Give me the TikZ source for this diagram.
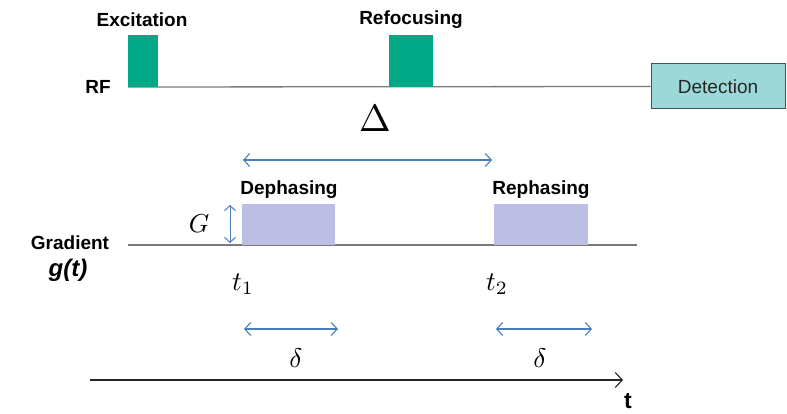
\documentclass[tikz,border=0pt]{standalone}
\usepackage{fontspec}
\setmainfont{Liberation Sans}
\usetikzlibrary{arrows.meta}
\definecolor{pulsegreen}{HTML}{00A886}
\definecolor{detfill}{HTML}{9CD8D8}
\definecolor{detedge}{HTML}{3F5555}
\definecolor{gradfill}{HTML}{BCBEE3}
\definecolor{arrblue}{HTML}{4A7EBB}
\definecolor{linegray}{HTML}{7A7A7A}
\tikzset{
  lbl/.style={font=\bfseries\fontsize{19}{21}\selectfont, inner sep=0pt},
  rfpulse/.style={fill=pulsegreen, draw=none, inner sep=0pt, minimum height=52pt},
  gpulse/.style={fill=gradfill, draw=none, inner sep=0pt, minimum height=41pt},
  baseline/.style={draw=linegray, line width=1.3pt},
  dblarrow/.style={draw=arrblue, line width=1.1pt, {Straight Barb[length=6pt,width=13pt]}-{Straight Barb[length=6pt,width=13pt]}},
  mathlbl/.style={inner sep=0pt, font=\fontsize{10}{12}\selectfont}
}
\begin{document}
\begin{tikzpicture}[x=1pt,y=-1pt]
\useasboundingbox (0,0) rectangle (787,414);
% RF row
\node[lbl] (exc) at (142,20) {Excitation};
\node[lbl] (ref) at (411,20) {Refocusing};
\node[lbl] (rf) at (98,87) {RF};
\coordinate (rfstart) at (128,87);
\node[draw=detedge, fill=detfill, line width=1pt, minimum width=134pt, minimum height=45pt, inner sep=0pt,
      font=\fontsize{19}{21}\selectfont, text=black!85] (det) at (718,86.5) {Detection};
\draw[baseline] (rfstart) -- (det.west);
\node[rfpulse, minimum width=30pt] (ep) at (143,61) {};
\node[rfpulse, minimum width=44pt] (rp) at (411,61) {};
% Delta
\node[mathlbl, scale=3.8] (Delta) at (375,119) {$\Delta$};
\coordinate (da) at (243,160);
\coordinate (db) at (492,160);
\draw[dblarrow] (da) -- (db);
% gradient row
\node[lbl] (deph) at (289,190) {Dephasing};
\node[lbl] (reph) at (541,190) {Rephasing};
\node[lbl] (grad) at (70,243) {Gradient};
\node[inner sep=0pt, font=\bfseries\itshape\fontsize{24}{26}\selectfont] (gt) at (68,270) {g(t)};
\coordinate (gstart) at (128,245);
\coordinate (gend) at (637,245);
\draw[baseline] (gstart) -- (gend);
\node[gpulse, minimum width=93pt] (dp) at (288.5,224.5) {};
\node[gpulse, minimum width=94pt] (rpg) at (541,224.5) {};
\node[mathlbl, scale=2.6] (G) at (199,224) {$G$};
\coordinate (ga) at (230,205);
\coordinate (gb) at (230,243);
\draw[dblarrow, line width=1pt, {Straight Barb[length=5pt,width=11pt]}-{Straight Barb[length=5pt,width=11pt]}] (ga) -- (gb);
\node[mathlbl, scale=2.7] (t1) at (243,284) {$t_1$};
\node[mathlbl, scale=2.7] (t2) at (497,284) {$t_2$};
% delta arrows
\coordinate (d1a) at (244,329);
\coordinate (d1b) at (338,329);
\coordinate (d2a) at (496,329);
\coordinate (d2b) at (592,329);
\draw[dblarrow] (d1a) -- (d1b);
\draw[dblarrow] (d2a) -- (d2b);
\node[mathlbl, scale=2.7] (del1) at (296,358) {$\delta$};
\node[mathlbl, scale=2.7] (del2) at (540,358) {$\delta$};
% time axis
\coordinate (ta) at (90,380);
\node[lbl, font=\bfseries\fontsize{23}{25}\selectfont] (tl) at (628,401) {t};
\coordinate (tb) at (623,380);
\draw[line width=1.1pt, black!85, -{Straight Barb[length=7pt,width=15pt]}] (ta) -- (tb);
\end{tikzpicture}
\end{document}
